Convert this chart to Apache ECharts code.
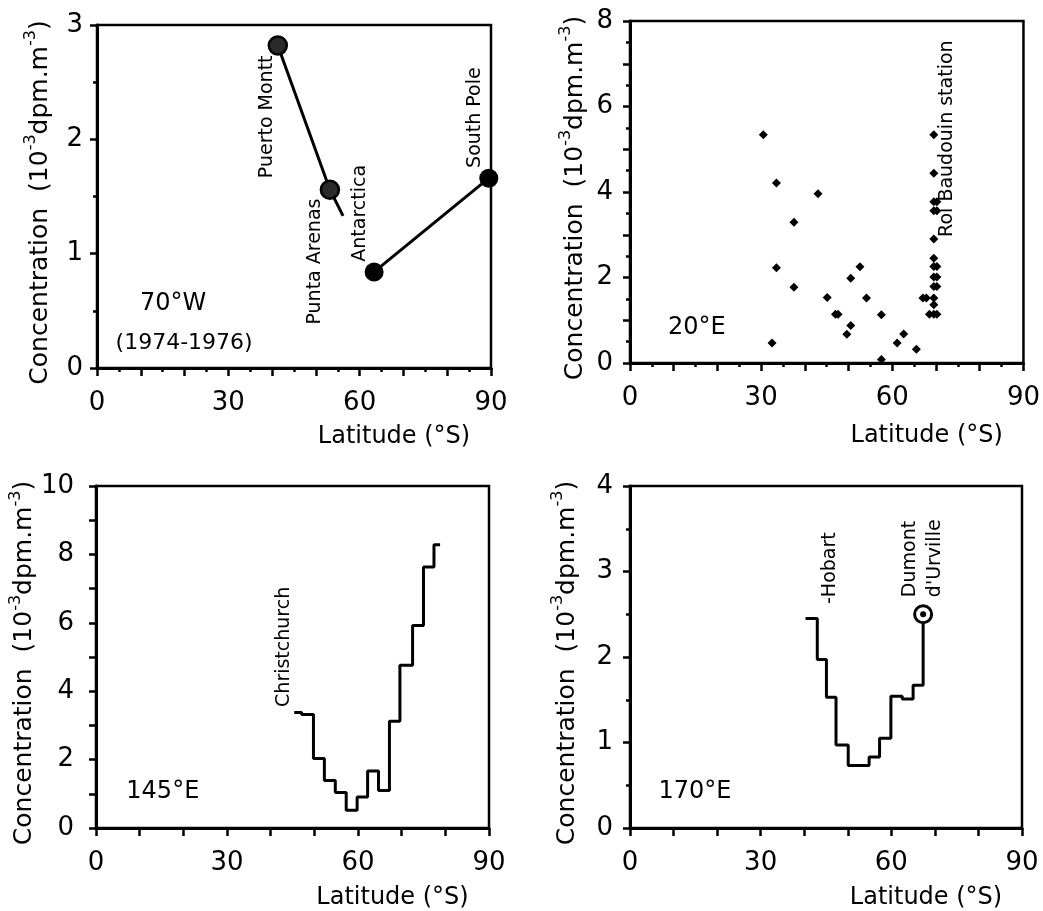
<!DOCTYPE html>
<html><head><meta charset="utf-8">
<script src="https://cdn.jsdelivr.net/npm/echarts@6/dist/echarts.min.js"></script>
<style>html,body{margin:0;padding:0;background:#fff}#c{width:1043px;height:911px}</style>
</head><body><div id="c"></div>
<script>
// ---------- Panel A : 70°W (1974-1976) ----------
const aLineNorth = [[41.3, 2.82], [53.2, 1.56], [56.2, 1.33]];
const aLineSouth = [[63.3, 0.84], [89.5, 1.66]];
const aRingedPts = [[41.3, 2.82], [53.2, 1.56]];
const aSolidPts = [[63.3, 0.84], [89.5, 1.66]];
const aStations = [[38.8, 1.66, 'Puerto Montt'], [49.8, 0.38, 'Punta Arenas'], [60.1, 0.93, 'Antarctica'], [86.3, 1.75, 'South Pole']];
const aTexts = [[17.4, 0.56, '70°W'], [19.9, 0.22, '(1974-1976)']];

// ---------- Panel B : 20°E ----------
const bPoints = [
  [30.5, 5.34], [33.5, 4.21], [32.5, 0.47], [33.5, 2.23], [37.5, 3.29], [37.5, 1.77],
  [43.0, 3.96], [45.1, 1.53], [47.0, 1.14], [47.6, 1.14], [49.6, 0.67], [50.5, 1.98],
  [50.5, 0.88], [52.6, 2.25], [54.1, 1.52], [57.5, 1.13], [57.5, 0.08], [61.1, 0.47],
  [62.6, 0.68], [65.5, 0.32], [67.0, 1.52], [67.8, 1.52], [68.5, 1.14],
  [69.5, 5.34], [69.5, 4.44], [69.5, 3.77], [70.2, 3.77], [69.5, 3.56], [70.2, 3.56],
  [69.5, 2.90], [69.5, 2.45], [69.5, 2.26], [70.2, 2.26], [69.5, 2.01], [70.2, 2.01],
  [69.5, 1.79], [70.2, 1.79], [69.5, 1.52], [69.5, 1.36], [69.5, 1.14], [70.2, 1.14]
];
const bStations = [[72.6, 2.95, 'Roi Baudouin station']];
const bTexts = [[15.3, 0.82, '20°E']];

// ---------- Panel C : 145°E (step profile) ----------
const cEdges = [45.4, 47.1, 49.8, 52.3, 54.8, 57.3, 59.8, 62.2, 64.7, 67.2, 69.6, 72.5, 75.0, 77.4, 78.8];
const cValues = [3.38, 3.32, 2.03, 1.39, 1.04, 0.52, 0.91, 1.67, 1.10, 3.12, 4.76, 5.92, 7.63, 8.28, 8.28];
const cStations = [[43.1, 3.54, 'Christchurch']];
const cTexts = [[15.3, 1.05, '145°E']];

// ---------- Panel D : 170°E (step profile) ----------
const dEdges = [40.3, 43.0, 45.1, 47.3, 50.1, 54.9, 57.3, 59.9, 62.5, 65.0, 67.3];
const dValues = [2.45, 1.97, 1.53, 0.97, 0.73, 0.83, 1.05, 1.54, 1.51, 1.67, 2.50];
const dRinged = [[67.3, 2.50]];
const dStations = [[45.9, 2.62, '-Hobart'], [64.3, 2.70, 'Dumont'], [70.0, 2.70, "d'Urville"]];
const dTexts = [[14.9, 0.42, '170°E']];

// ---------- tick settings ----------
const xTickLabels = [0, 30, 60, 90];
const yMax = [3, 8, 10, 4];
const yLabelStep = [1, 2, 2, 1];

const FONT = 'DejaVu Sans';
const grids = [
  {left: 97, top: 25, width: 394, height: 343},
  {left: 630, top: 21, width: 394, height: 342},
  {left: 96, top: 486, width: 393, height: 342},
  {left: 630, top: 486, width: 392, height: 342}
].map(g => Object.assign(g, {show: true, borderColor: '#000', borderWidth: 2.5, backgroundColor: '#fff'}));

const xMinor = [true, true, false, false];
const yMinor = [true, true, false, true];
const yMargin = [14, 17, 22, 17];
const yGap = [40, 38, 52, 46];
const xGap = [57, 61, 58, 58];

const yTitle = '{m|Concentration  (10}{s|-3}{m|dpm.m}{s|-3}{m|)}';

const xAxes = grids.map((g, i) => ({
  type: 'value', gridIndex: i, min: 0, max: 90, interval: 10,
  axisLine: {show: true, onZero: false, lineStyle: {color: '#000', width: 3}},
  axisTick: {show: true, inside: false, length: 8, lineStyle: {color: '#000', width: 2.5}},
  minorTick: {show: xMinor[i], splitNumber: 2, length: 4, lineStyle: {color: '#000', width: 2.5}},
  splitLine: {show: false}, minorSplitLine: {show: false},
  axisLabel: {margin: 22, fontSize: 26, fontFamily: FONT, color: '#000',
    formatter: v => xTickLabels.indexOf(v) >= 0 ? String(v) : ''},
  name: 'Latitude (°S)', nameLocation: 'middle', nameGap: xGap[i],
  nameTextStyle: {fontSize: 24, fontFamily: FONT, color: '#000', padding: [0, 0, 0, 200]}
}));

const yAxes = grids.map((g, i) => ({
  type: 'value', gridIndex: i, min: 0, max: yMax[i], interval: 1,
  axisLine: {show: true, onZero: false, lineStyle: {color: '#000', width: 3}},
  axisTick: {show: true, inside: false, length: 7, lineStyle: {color: '#000', width: 2.5}},
  minorTick: {show: yMinor[i], splitNumber: 2, length: 4, lineStyle: {color: '#000', width: 2.5}},
  splitLine: {show: false}, minorSplitLine: {show: false},
  axisLabel: {margin: yMargin[i], fontSize: 26, fontFamily: FONT, color: '#000',
    formatter: v => (Math.round(v) % yLabelStep[i] === 0) ? String(v) : ''},
  name: yTitle, nameLocation: 'middle', nameRotate: 90, nameGap: yGap[i],
  nameTextStyle: {
    padding: [0, 12, 0, 0],
    rich: {
      m: {fontSize: 25, fontFamily: FONT, color: '#000', lineHeight: 34},
      s: {fontSize: 16, fontFamily: FONT, color: '#000', lineHeight: 18, verticalAlign: 'top'}
    }
  }
}));

function rotLabels(i, data) {
  return {type: 'scatter', xAxisIndex: i, yAxisIndex: i, data: data, symbolSize: 1,
    itemStyle: {color: 'rgba(255,255,255,0)', opacity: 1}, silent: true, z: 5,
    label: {show: true, position: 'inside', rotate: 90, align: 'left', verticalAlign: 'middle',
      fontSize: 19, fontFamily: FONT, color: '#000', opacity: 1, textBorderWidth: 0,
      formatter: p => p.data[2]}};
}
function flatLabels(i, data, size) {
  return {type: 'scatter', xAxisIndex: i, yAxisIndex: i, data: data, symbolSize: 1,
    itemStyle: {color: 'rgba(255,255,255,0)', opacity: 1}, silent: true, z: 5,
    label: {show: true, position: 'inside', align: 'center', verticalAlign: 'middle',
      fontSize: size, fontFamily: FONT, color: '#000', opacity: 1, textBorderWidth: 0,
      formatter: p => p.data[2]}};
}
function stepData(edges, values) {
  return edges.map((e, k) => [e, values[k]]);
}

const series = [
  // Panel A
  {type: 'line', xAxisIndex: 0, yAxisIndex: 0, data: aLineNorth, showSymbol: false, lineStyle: {color: '#000', width: 3}},
  {type: 'line', xAxisIndex: 0, yAxisIndex: 0, data: aLineSouth, showSymbol: false, lineStyle: {color: '#000', width: 3}},
  {type: 'scatter', xAxisIndex: 0, yAxisIndex: 0, data: aRingedPts, symbol: 'circle', symbolSize: 18,
    itemStyle: {color: '#2a2a2a', borderColor: '#000', borderWidth: 2.5, opacity: 1}, z: 4},
  {type: 'scatter', xAxisIndex: 0, yAxisIndex: 0, data: aSolidPts, symbol: 'circle', symbolSize: 19,
    itemStyle: {color: '#000', opacity: 1}, z: 4},
  rotLabels(0, aStations),
  flatLabels(0, [aTexts[0]], 24),
  flatLabels(0, [aTexts[1]], 22),
  // Panel B
  {type: 'scatter', xAxisIndex: 1, yAxisIndex: 1, data: bPoints, symbol: 'diamond', symbolSize: 9,
    itemStyle: {color: '#000', opacity: 1}},
  rotLabels(1, bStations),
  flatLabels(1, bTexts, 24),
  // Panel C
  {type: 'line', xAxisIndex: 2, yAxisIndex: 2, data: stepData(cEdges, cValues), step: 'end', showSymbol: false,
    lineStyle: {color: '#000', width: 3}},
  rotLabels(2, cStations),
  flatLabels(2, cTexts, 24),
  // Panel D
  {type: 'line', xAxisIndex: 3, yAxisIndex: 3, data: stepData(dEdges, dValues), step: 'end', showSymbol: false,
    lineStyle: {color: '#000', width: 3}},
  {type: 'scatter', xAxisIndex: 3, yAxisIndex: 3, data: dRinged, symbol: 'circle', symbolSize: 17,
    itemStyle: {color: '#fff', borderColor: '#000', borderWidth: 3, opacity: 1}, z: 4},
  {type: 'scatter', xAxisIndex: 3, yAxisIndex: 3, data: dRinged, symbol: 'circle', symbolSize: 6,
    itemStyle: {color: '#000', opacity: 1}, z: 5},
  rotLabels(3, dStations),
  flatLabels(3, dTexts, 24)
];

const chart = echarts.init(document.getElementById('c'), null, {renderer: 'canvas'});
chart.setOption({
  backgroundColor: '#fff',
  animation: false,
  grid: grids,
  xAxis: xAxes,
  yAxis: yAxes,
  series: series
});
</script>
</body></html>
